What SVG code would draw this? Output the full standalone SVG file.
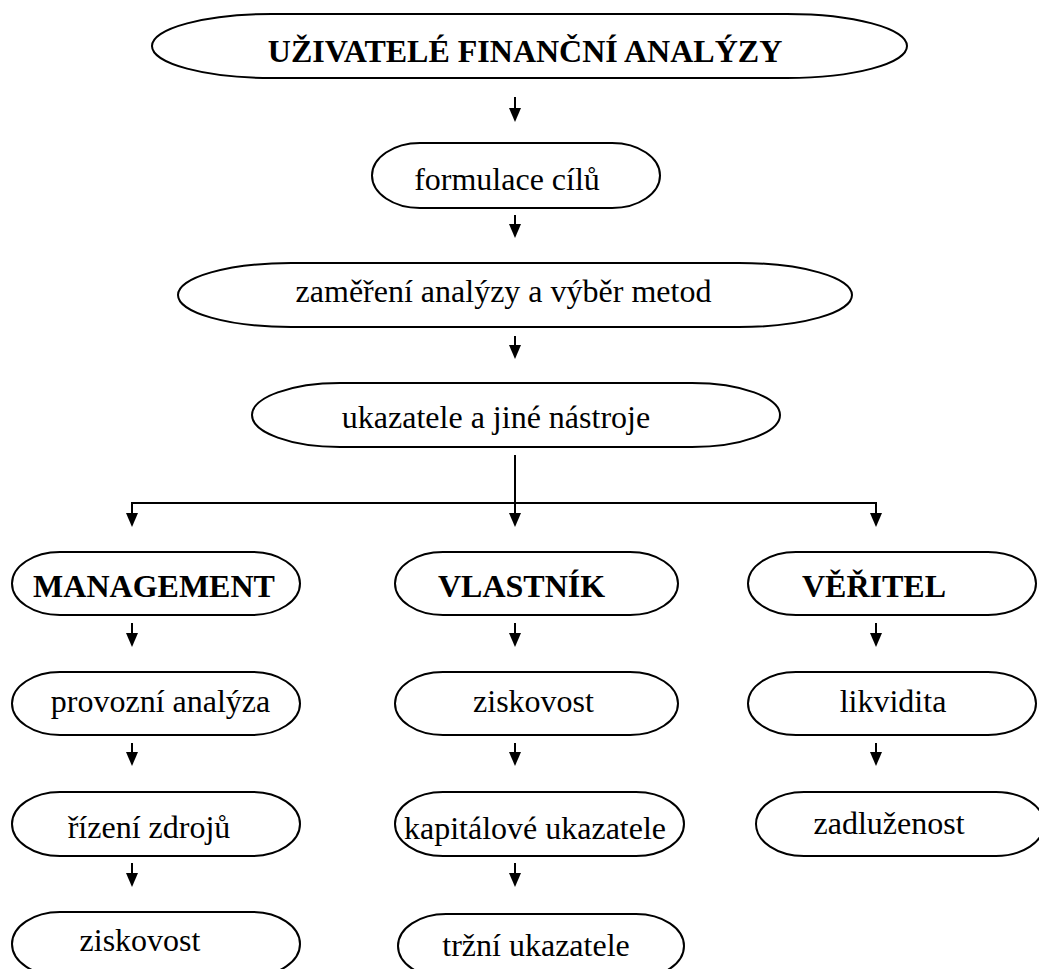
<svg xmlns="http://www.w3.org/2000/svg" width="1039" height="969" viewBox="0 0 1039 969">
<style>
.n{fill:#fff;stroke:#000;stroke-width:2}
.t{font-family:"Liberation Serif","Times New Roman",serif;font-size:32px;fill:#000;text-anchor:middle}
.b{font-weight:bold}
.c{stroke:#000;stroke-width:2;fill:none}
.a{stroke:#000;stroke-width:2;fill:none;marker-end:url(#ah)}
</style>
<defs>
<marker id="ah" markerUnits="userSpaceOnUse" markerWidth="14" markerHeight="12" viewBox="0 0 14 12" refX="6" refY="6" orient="auto">
<path d="M0,0 L14,6 L0,12 Z" fill="#000"/>
</marker>
</defs>
<rect width="1039" height="969" fill="#fff"/>
<g id="connectors">
<line class="a" x1="515" y1="97" x2="515" y2="114"/>
<line class="a" x1="515" y1="215" x2="515" y2="230"/>
<line class="a" x1="515" y1="336" x2="515" y2="351"/>
<line class="a" x1="515" y1="455" x2="515" y2="519"/>
<line class="c" x1="132" y1="503" x2="876" y2="503"/>
<line class="a" x1="132" y1="502" x2="132" y2="519"/>
<line class="a" x1="876" y1="502" x2="876" y2="519"/>
<line class="a" x1="132" y1="623" x2="132" y2="639"/>
<line class="a" x1="515" y1="623" x2="515" y2="639"/>
<line class="a" x1="876" y1="623" x2="876" y2="639"/>
<line class="a" x1="132" y1="743" x2="132" y2="758"/>
<line class="a" x1="515" y1="743" x2="515" y2="758"/>
<line class="a" x1="876" y1="743" x2="876" y2="758"/>
<line class="a" x1="132" y1="863" x2="132" y2="879"/>
<line class="a" x1="515" y1="863" x2="515" y2="879"/>
</g>
<g id="n-uzivatele">
<path class="n" d="M272,14 H787 A120,32 0 0 1 787,78 H272 A120,32 0 0 1 272,14 Z"/>
<text class="t b" x="525" y="62">UŽIVATELÉ FINANČNÍ ANALÝZY</text>
</g>
<g id="n-formulace">
<path class="n" d="M420,143 H612 A48,32.5 0 0 1 612,208 H420 A48,32.5 0 0 1 420,143 Z"/>
<text class="t" x="507" y="190">formulace cílů</text>
</g>
<g id="n-zamereni">
<path class="n" d="M291,263 H739 A113,32 0 0 1 739,327 H291 A113,32 0 0 1 291,263 Z"/>
<text class="t" x="503.5" y="302">zaměření analýzy a výběr metod</text>
</g>
<g id="n-ukazatele">
<path class="n" d="M340,383 H692 A88,32 0 0 1 692,447 H340 A88,32 0 0 1 340,383 Z"/>
<text class="t" x="496" y="428">ukazatele a jiné nástroje</text>
</g>
<g id="n-management">
<path class="n" d="M60,552 H252 A48,31.5 0 0 1 252,615 H60 A48,31.5 0 0 1 60,552 Z"/>
<text class="t b" x="154" y="597">MANAGEMENT</text>
</g>
<g id="n-vlastnik">
<path class="n" d="M443,552 H630 A48,31.5 0 0 1 630,615 H443 A48,31.5 0 0 1 443,552 Z"/>
<text class="t b" x="521.5" y="597">VLASTNÍK</text>
</g>
<g id="n-veritel">
<path class="n" d="M796,552 H988 A48,31.5 0 0 1 988,615 H796 A48,31.5 0 0 1 796,552 Z"/>
<text class="t b" x="874" y="597">VĚŘITEL</text>
</g>
<g id="n-provozni">
<path class="n" d="M60,672 H252 A48,31.5 0 0 1 252,735 H60 A48,31.5 0 0 1 60,672 Z"/>
<text class="t" x="160.5" y="712">provozní analýza</text>
</g>
<g id="n-ziskovost-v">
<path class="n" d="M443,672 H630 A48,31.5 0 0 1 630,735 H443 A48,31.5 0 0 1 443,672 Z"/>
<text class="t" x="533.5" y="712">ziskovost</text>
</g>
<g id="n-likvidita">
<path class="n" d="M796,672 H988 A48,31.5 0 0 1 988,735 H796 A48,31.5 0 0 1 796,672 Z"/>
<text class="t" x="893" y="712">likvidita</text>
</g>
<g id="n-rizeni">
<path class="n" d="M60,792 H252 A48,32 0 0 1 252,856 H60 A48,32 0 0 1 60,792 Z"/>
<text class="t" x="149" y="838">řízení zdrojů</text>
</g>
<g id="n-kapitalove">
<path class="n" d="M443,792 H636 A48,32 0 0 1 636,856 H443 A48,32 0 0 1 443,792 Z"/>
<text class="t" x="535" y="839">kapitálové ukazatele</text>
</g>
<g id="n-zadluzenost">
<path class="n" d="M804,792 H996 A48,32 0 0 1 996,856 H804 A48,32 0 0 1 804,792 Z"/>
<text class="t" x="889" y="834">zadluženost</text>
</g>
<g id="n-ziskovost-m">
<path class="n" d="M60,912 H252 A48,32 0 0 1 252,976 H60 A48,32 0 0 1 60,912 Z"/>
<text class="t" x="140" y="951">ziskovost</text>
</g>
<g id="n-trzni">
<path class="n" d="M446,914 H636 A48,32 0 0 1 636,978 H446 A48,32 0 0 1 446,914 Z"/>
<text class="t" x="536" y="956">tržní ukazatele</text>
</g>
</svg>
